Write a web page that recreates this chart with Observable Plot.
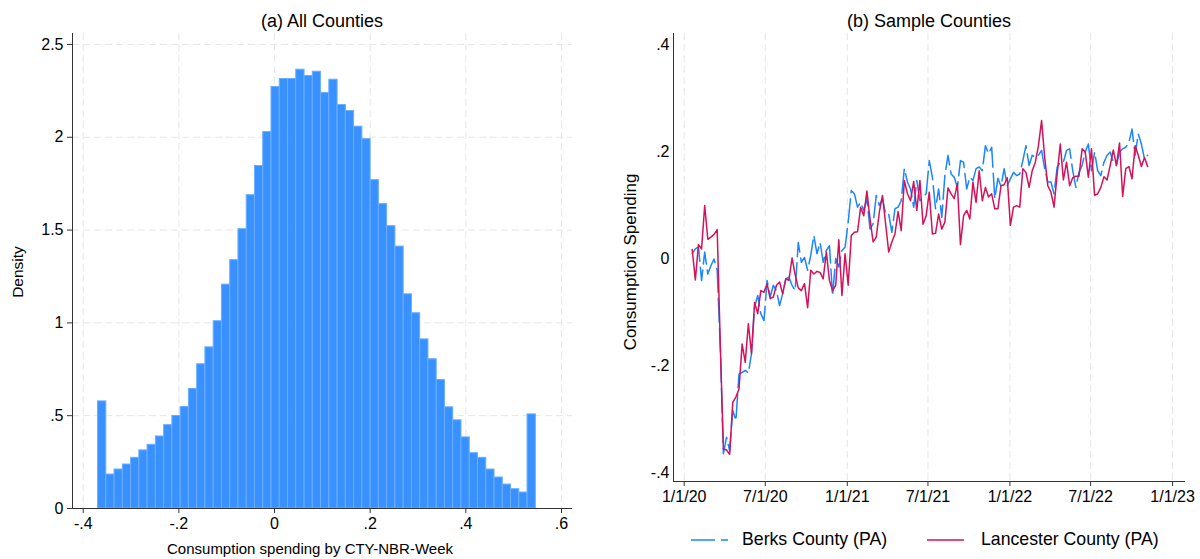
<!DOCTYPE html>
<html><head><meta charset="utf-8">
<script src="https://cdn.jsdelivr.net/npm/d3@7"></script>
<script src="https://cdn.jsdelivr.net/npm/@observablehq/plot@0.6"></script>
<style>
body{margin:0;background:#fff;font-family:"Liberation Sans",Arial,sans-serif;}
#root{position:relative;width:1200px;height:559px;overflow:hidden;background:#fff;}
.abs{position:absolute;white-space:nowrap;color:#000;line-height:1;}
.plot{position:absolute;top:0;}
</style></head><body><div id="root"></div>
<script>
// ---------- Panel (a): histogram data ----------
const histBinStart = -0.369;
const histBinWidth = 0.01727;
const histDensity = [0.577,0.183,0.210,0.237,0.273,0.313,0.343,0.388,0.449,0.498,
  0.547,0.644,0.777,0.868,1.009,1.206,1.338,1.505,1.688,1.845,
  2.028,2.271,2.314,2.314,2.364,2.330,2.353,2.238,2.310,2.174,
  2.141,2.057,1.990,1.769,1.640,1.521,1.411,1.154,1.052,0.911,
  0.804,0.692,0.545,0.475,0.383,0.298,0.273,0.210,0.167,0.129,
  0.104,0.086,0.507];
const histXTicks = [-0.4,-0.2,0,0.2,0.4,0.6];
const histXTickLabels = ["-.4","-.2","0",".2",".4",".6"];
const histYTicks = [0,0.5,1,1.5,2,2.5];
const histYTickLabels = ["0",".5","1","1.5","2","2.5"];

// ---------- Panel (b): weekly series ----------
const weekStart = "2020-01-19";
const berks = [0.009,0.018,0.022,-0.041,0.012,-0.029,-0.013,-0.001,-0.022,-0.166,
  -0.365,-0.334,-0.359,-0.284,-0.303,-0.216,-0.213,-0.209,-0.214,-0.178,
  -0.091,-0.069,-0.103,-0.116,-0.041,-0.072,-0.05,-0.06,-0.088,-0.066,
  -0.038,-0.035,-0.05,-0.06,0.03,-0.007,0.002,-0.022,0.006,0.043,
  0.009,0.03,-0.007,0.015,0.024,-0.07,0.0,-0.016,0.015,0.021,
  0.068,0.127,0.121,0.096,0.105,0.09,0.112,0.055,0.065,0.118,
  0.099,0.112,0.083,0.083,0.049,0.093,0.096,0.108,0.168,0.143,
  0.13,0.096,0.146,0.108,0.115,0.121,0.183,0.152,0.093,0.13,
  0.077,0.155,0.193,0.158,0.152,0.133,0.183,0.18,0.13,0.152,
  0.146,0.168,0.171,0.164,0.211,0.196,0.208,0.112,0.15,0.135,
  0.168,0.136,0.149,0.161,0.155,0.158,0.183,0.211,0.174,0.193,
  0.189,0.193,0.202,0.168,0.143,0.143,0.121,0.171,0.18,0.18,
  0.202,0.205,0.164,0.133,0.161,0.174,0.199,0.214,0.164,0.199,
  0.164,0.155,0.18,0.193,0.199,0.18,0.174,0.199,0.205,0.208,
  0.217,0.242,0.193,0.233,0.214,0.186,0.193];
const lancaster = [0.017,-0.04,0.026,0.018,0.099,0.036,0.04,0.045,0.054,-0.16,
  -0.356,-0.358,-0.366,-0.269,-0.259,-0.244,-0.16,-0.194,-0.122,-0.178,
  -0.082,-0.103,-0.06,-0.063,-0.047,-0.075,-0.072,-0.05,-0.044,-0.066,
  -0.038,-0.041,0.001,-0.03,-0.055,-0.06,-0.047,-0.092,-0.022,-0.029,
  -0.024,-0.026,-0.038,0.012,-0.041,-0.06,-0.05,0.035,-0.069,0.009,
  -0.05,0.043,0.049,0.05,0.096,0.08,0.126,0.074,0.031,0.04,
  0.087,0.118,0.065,0.012,0.031,0.046,0.088,0.052,0.146,0.121,
  0.108,0.144,0.09,0.146,0.064,0.08,0.124,0.046,0.047,0.083,
  0.055,0.068,0.132,0.121,0.112,0.14,0.026,0.08,0.09,0.074,
  0.143,0.105,0.164,0.108,0.133,0.115,0.121,0.093,0.093,0.136,
  0.138,0.151,0.062,0.096,0.099,0.096,0.168,0.161,0.133,0.164,
  0.18,0.211,0.258,0.189,0.136,0.124,0.096,0.158,0.214,0.147,
  0.18,0.136,0.151,0.154,0.154,0.205,0.199,0.152,0.205,0.118,
  0.121,0.133,0.153,0.147,0.174,0.203,0.174,0.216,0.116,0.168,
  0.172,0.149,0.211,0.193,0.172,0.189,0.172];
const lineXTicks = ["2020-01-01","2020-07-01","2021-01-01","2021-07-01","2022-01-01","2022-07-01","2023-01-01"];
const lineXTickLabels = ["1/1/20","7/1/20","1/1/21","7/1/21","1/1/22","7/1/22","1/1/23"];
const lineYTicks = [-0.4,-0.2,0,0.2,0.4];
const lineYTickLabels = ["-.4","-.2","0",".2",".4"];
const seriesNames = ["Berks County (PA)","Lancester County (PA)"];
const seriesColors = ["#1A85FF","#D41159"];

// ---------- build ----------
const root = document.getElementById("root");
const FONT = "'Liberation Sans', Arial, Helvetica, sans-serif";
const GRID = "#e6e6e6";
const AXIS = "#333";

function addText(txt, x, y, size, opts = {}) {
  const d = document.createElement("div");
  d.className = "abs";
  d.textContent = txt;
  d.style.left = x + "px";
  d.style.top = y + "px";
  d.style.fontSize = size + "px";
  d.style.transform = opts.rotate ? "translate(-50%,-50%) rotate(-90deg)" : (opts.anchor === "start" ? "translate(0,-50%)" : "translate(-50%,-50%)");
  root.appendChild(d);
  return d;
}

// Panel (a)
const histData = histDensity.map((v, i) => ({x1: histBinStart + i * histBinWidth, x2: histBinStart + (i + 1) * histBinWidth, y: v}));
const hx = [-0.4224, 0.623], hy = [0, 2.559];
const plotA = Plot.plot({
  width: 600, height: 559,
  marginLeft: 72, marginRight: 28, marginTop: 33, marginBottom: 51,
  style: {fontFamily: FONT, fontSize: "16px", color: "#000", background: "transparent"},
  x: {domain: hx},
  y: {domain: hy},
  marks: [
    Plot.gridX(histXTicks, {stroke: GRID, strokeOpacity: 1, strokeDasharray: "7,4"}),
    Plot.gridY(histYTicks.filter(d => d > 0), {stroke: GRID, strokeOpacity: 1, strokeDasharray: "7,4"}),
    Plot.rectY(histData, {x1: "x1", x2: "x2", y: "y", fill: "#3891ff", stroke: "#6aaeff", strokeWidth: 1}),
    Plot.ruleX([hx[0]], {stroke: AXIS}),
    Plot.ruleY([hy[0]], {stroke: AXIS}),
    Plot.axisX(histXTicks, {tickSize: 5, tickPadding: 4, label: null, stroke: AXIS,
      tickFormat: d => histXTickLabels[histXTicks.indexOf(d)]}),
    Plot.axisY(histYTicks, {tickSize: 5, tickPadding: 4, label: null, stroke: AXIS,
      tickFormat: d => histYTickLabels[histYTicks.indexOf(d)]})
  ]
});
plotA.classList.add("plot");
plotA.style.left = "0px";
root.appendChild(plotA);

// Panel (b)
const parse = d3.utcParse("%Y-%m-%d");
const t0 = parse(weekStart);
const weekDates = berks.map((_, i) => d3.utcDay.offset(t0, 7 * i));
const berksData = berks.map((v, i) => ({date: weekDates[i], v}));
const lancData = lancaster.map((v, i) => ({date: weekDates[i], v}));
const tickDates = lineXTicks.map(parse);
const bx = [parse("2019-12-08"), parse("2023-01-30")], by = [-0.4168, 0.4206];
const plotB = Plot.plot({
  width: 600, height: 559,
  marginLeft: 73, marginRight: 15, marginTop: 33, marginBottom: 78,
  style: {fontFamily: FONT, fontSize: "16px", color: "#000", background: "transparent"},
  x: {type: "utc", domain: bx},
  y: {domain: by},
  marks: [
    Plot.gridX(tickDates, {stroke: GRID, strokeOpacity: 1, strokeDasharray: "7,4"}),
    Plot.line(berksData, {x: "date", y: "v", stroke: seriesColors[0], strokeWidth: 1.5, strokeDasharray: "24,6"}),
    Plot.line(lancData, {x: "date", y: "v", stroke: seriesColors[1], strokeWidth: 1.5}),
    Plot.ruleX([bx[0]], {stroke: AXIS}),
    Plot.ruleY([by[0]], {stroke: AXIS}),
    Plot.axisX(tickDates, {tickSize: 5, tickPadding: 4, label: null, stroke: AXIS,
      tickFormat: d => lineXTickLabels[tickDates.findIndex(t => +t === +d)]}),
    Plot.axisY(lineYTicks, {tickSize: 0, tickPadding: 4, label: null,
      tickFormat: d => lineYTickLabels[lineYTicks.indexOf(d)]})
  ]
});
plotB.classList.add("plot");
plotB.style.left = "600px";
root.appendChild(plotB);

// Titles & axis titles
addText("(a) All Counties", 322, 21, 18);
addText("(b) Sample Counties", 929, 21, 18);
addText("Density", 18, 272, 15.5, {rotate: true});
addText("Consumption spending by CTY-NBR-Week", 310, 548, 15);
addText("Consumption Spending", 630, 262, 17, {rotate: true});

// Legend
function legendItem(x, color, dash, label, textX) {
  const ns = "http://www.w3.org/2000/svg";
  const s = document.createElementNS(ns, "svg");
  s.setAttribute("width", 40); s.setAttribute("height", 6);
  s.style.position = "absolute"; s.style.left = x + "px"; s.style.top = "537px";
  const l = document.createElementNS(ns, "line");
  l.setAttribute("x1", 0); l.setAttribute("x2", 37); l.setAttribute("y1", 3); l.setAttribute("y2", 3);
  l.setAttribute("stroke", color); l.setAttribute("stroke-width", 1.6);
  if (dash) l.setAttribute("stroke-dasharray", dash);
  s.appendChild(l);
  root.appendChild(s);
  addText(label, textX, 540, 17.7, {anchor: "start"});
}
legendItem(691, seriesColors[0], "24,6", seriesNames[0], 742);
legendItem(927, seriesColors[1], null, seriesNames[1], 981);
</script></body></html>
